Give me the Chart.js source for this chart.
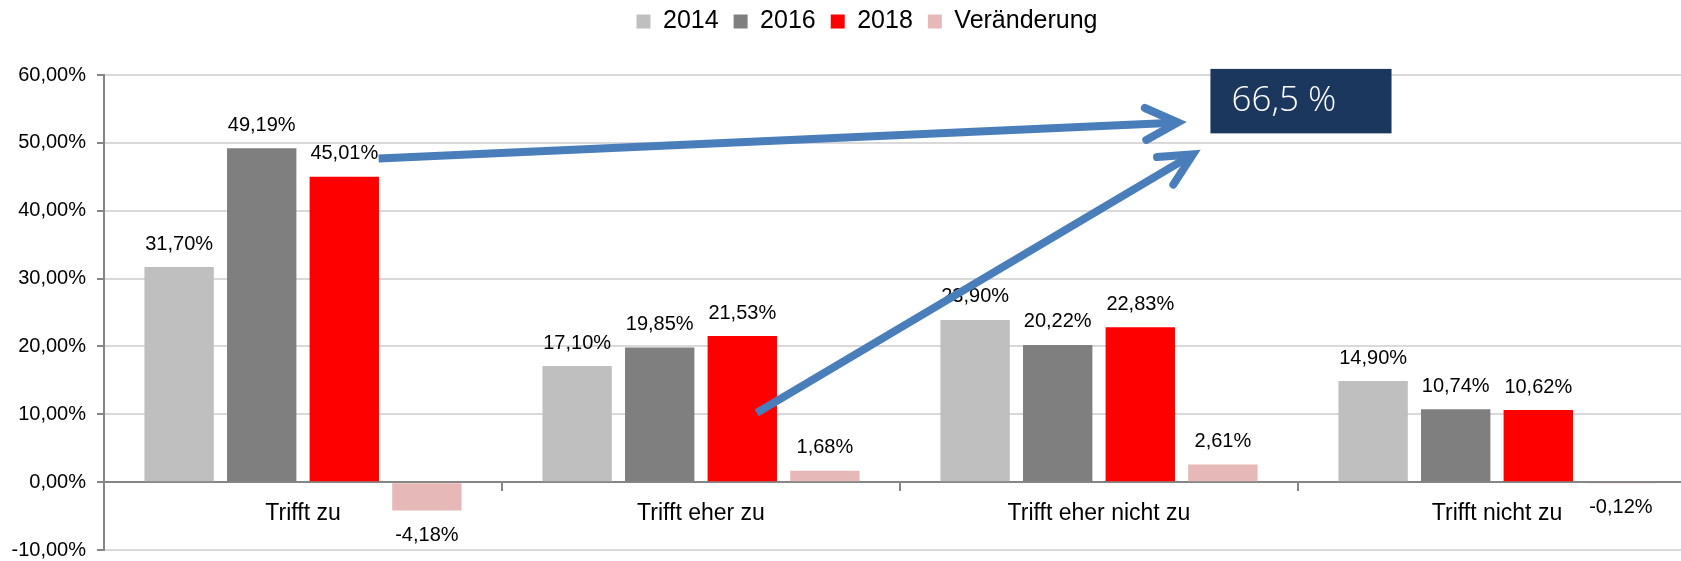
<!DOCTYPE html>
<html>
<head>
<meta charset="utf-8">
<script src="https://cdn.jsdelivr.net/npm/chart.js@4"></script>
<style>
  html, body { margin: 0; padding: 0; background: #fff; overflow: hidden; }
  #wrap { width: 1700px; height: 561px; position: relative; }
</style>
</head>
<body>
<div id="wrap"><canvas id="chart"></canvas></div>
<script>
const categories = ['Trifft zu', 'Trifft eher zu', 'Trifft eher nicht zu', 'Trifft nicht zu'];
const values2014 = [31.70, 17.10, 23.90, 14.90];
const values2016 = [49.19, 19.85, 20.22, 10.74];
const values2018 = [45.01, 21.53, 22.83, 10.62];
const valuesChange = [-4.18, 1.68, 2.61, -0.12];
const seriesNames = ['2014', '2016', '2018', 'Veränderung'];
const seriesColors = ['#bfbfbf', '#7f7f7f', '#ff0000', '#e6b9b8'];
const calloutText = '66,5 %';

const FONT = "'Liberation Sans', Arial, sans-serif";
const pct = v => v.toFixed(2).replace('.', ',') + '%';

// labels above / below each bar
const barLabels = {
  id: 'barLabels',
  afterDatasetsDraw(chart) {
    const ctx = chart.ctx;
    ctx.save();
    ctx.font = '20px ' + FONT;
    ctx.fillStyle = '#000';
    ctx.textAlign = 'center';
    ctx.textBaseline = 'middle';
    chart.data.datasets.forEach((ds, i) => {
      chart.getDatasetMeta(i).data.forEach((bar, j) => {
        const v = ds.data[j];
        const y = v >= 0 ? bar.y - 23 : bar.y + 25;
        ctx.fillText(pct(v), bar.x, y);
      });
    });
    ctx.restore();
  }
};

// the blue arrows and the dark callout box, placed in category / value units
const callout = {
  id: 'callout',
  afterDraw(chart) {
    const xs = chart.scales.x, ys = chart.scales.y;
    const c0 = xs.getPixelForValue(0), step = xs.getPixelForValue(1) - c0;
    const px = f => c0 + f * step;
    const py = v => ys.getPixelForValue(v);
    const ctx = chart.ctx;

    const arrows = [
      [[0.19, 47.7], [2.198, 53.0]],
      [[1.14, 10.2], [2.236, 48.3]]
    ];
    ctx.save();
    ctx.strokeStyle = '#4a7ebb';
    ctx.lineWidth = 8;
    arrows.forEach(([a, b]) => {
      const x1 = px(a[0]), y1 = py(a[1]), x2 = px(b[0]), y2 = py(b[1]);
      const ang = Math.atan2(y2 - y1, x2 - x1);
      ctx.lineCap = 'butt';
      ctx.beginPath();
      ctx.moveTo(x1, y1);
      ctx.lineTo(x2 - 4 * Math.cos(ang), y2 - 4 * Math.sin(ang));
      ctx.stroke();
      ctx.lineCap = 'round';
      ctx.lineJoin = 'miter';
      const len = 36, spread = 0.46;
      ctx.beginPath();
      ctx.moveTo(x2 - len * Math.cos(ang - spread), y2 - len * Math.sin(ang - spread));
      ctx.lineTo(x2, y2);
      ctx.lineTo(x2 - len * Math.cos(ang + spread), y2 - len * Math.sin(ang + spread));
      ctx.stroke();
    });

    const bx = px(2.28), bw = px(2.735) - bx;
    const by = py(60.9), bh = py(51.4) - by;
    ctx.fillStyle = '#1b375e';
    ctx.fillRect(bx, by, bw, bh);
    ctx.fillStyle = '#fff';
    ctx.font = "300 35px 'Open Sans', 'Noto Sans', sans-serif";
    ctx.textAlign = 'left';
    ctx.textBaseline = 'middle';
    ctx.fillText(calloutText, bx + 21, by + bh / 2);
    ctx.restore();
  }
};

// fixed legend band height, lifted and moved a bit right
const legendBand = {
  id: 'legendBand',
  beforeInit(chart) {
    const fit = chart.legend.fit;
    chart.legend.fit = function () { fit.call(this); this.height = 75; };
  },
  afterLayout(chart) {
    chart.legend.top -= 6;
    chart.legend.left += 19;
    chart.legend.right += 19;
  }
};

new Chart(document.getElementById('chart'), {
  type: 'bar',
  data: {
    labels: categories,
    datasets: [values2014, values2016, values2018, valuesChange].map((d, i) => ({
      label: seriesNames[i],
      data: d,
      backgroundColor: seriesColors[i],
      categoryPercentage: 0.83,
      barPercentage: 0.84
    }))
  },
  options: {
    responsive: true,
    maintainAspectRatio: false,
    animation: false,
    layout: { padding: { left: 0, right: 4, top: 0, bottom: 11 } },
    plugins: {
      legend: {
        position: 'top',
        labels: {
          font: { family: FONT, size: 25, lineHeight: 1 },
          color: '#000',
          boxWidth: 14,
          boxHeight: 14,
          padding: 15
        }
      },
      tooltip: { enabled: false }
    },
    scales: {
      x: {
        position: { y: 0 },
        grid: {
          drawOnChartArea: false,
          drawTicks: true,
          tickLength: 8,
          tickColor: '#868686',
          lineWidth: 2
        },
        border: { color: '#868686', width: 2 },
        ticks: { font: { family: FONT, size: 23 }, color: '#000', padding: 10 }
      },
      y: {
        min: -10,
        max: 60,
        ticks: {
          stepSize: 10,
          callback: v => pct(v),
          font: { family: FONT, size: 20 },
          color: '#000',
          padding: 11
        },
        grid: { color: '#d9d9d9', lineWidth: 2, tickLength: 7, tickColor: '#868686' },
        border: { color: '#868686', width: 2 },
        afterFit(scale) {
          scale.width = 104;
          scale.paddingTop = 0;
          scale.paddingBottom = 0;
        }
      }
    }
  },
  plugins: [barLabels, callout, legendBand]
});
</script>
</body>
</html>
